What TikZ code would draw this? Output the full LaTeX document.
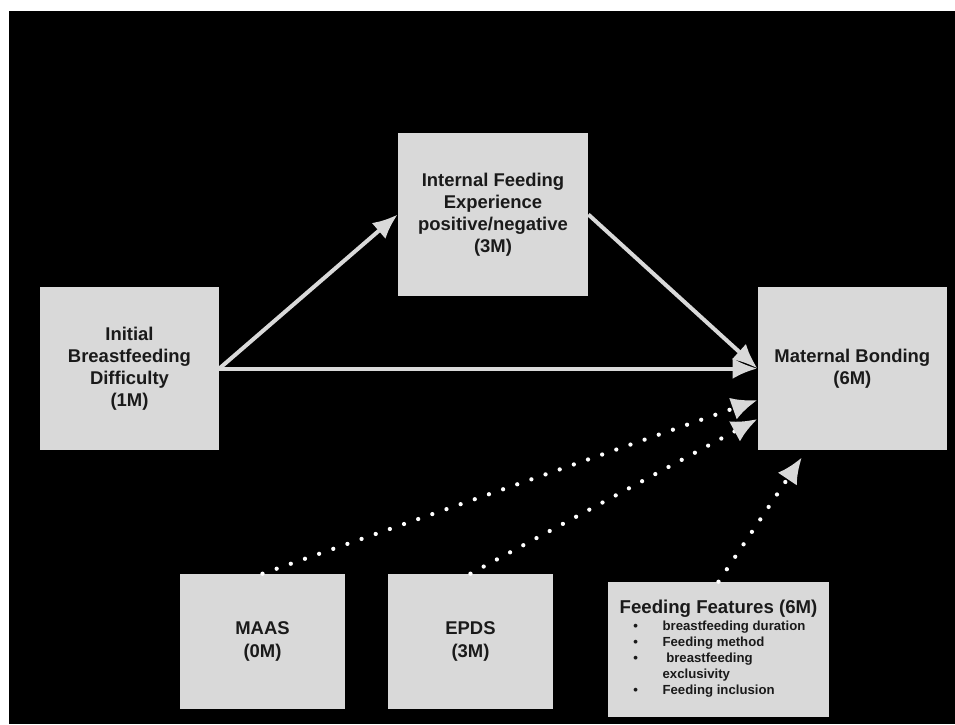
\documentclass[tikz,border=0pt]{standalone}
\usepackage{fontspec}
\setmainfont{Liberation Sans}
\usetikzlibrary{arrows.meta,positioning}
\definecolor{boxgray}{HTML}{D9D9D9}
\definecolor{textdark}{HTML}{1A1A1A}

\begin{document}
\begin{tikzpicture}[x=0.02cm,y=-0.02cm,
  box/.style={fill=boxgray,text=textdark,font=\fontsize{10.5}{12.6}\selectfont\bfseries,align=center,inner sep=0pt},
  solid_arrow/.style={draw=boxgray,line width=0.08cm,-{Latex[length=0.5cm,width=0.42cm]}},
  dot_arrow/.style={draw=white,line width=0.085cm,line cap=round,dash pattern=on 0pt off 0.3cm,-{Latex[length=0.52cm,width=0.46cm,color=boxgray]}}]

\fill[white] (0,0) rectangle (955,724);
\fill[black] (9,11) rectangle (955,724);

\node[box,minimum width=3.58cm,minimum height=3.26cm] (initial_node) at (129.5,368.5) {Initial\\Breastfeeding\\Difficulty\\(1M)};
\node[box,minimum width=3.78cm,minimum height=3.26cm,right of = initial_node, node distance = 14.46cm] (maternal_node) {Maternal Bonding\\(6M)};
\node[box,minimum width=3.8cm,minimum height=3.26cm] (internal_node) at (493,214.5) {Internal Feeding\\Experience\\positive/negative\\(3M)};
\node[box,minimum width=3.3cm,minimum height=2.7cm] (maas_node) at (262.5,641.5) {MAAS\\(0M)};
\node[box,minimum width=3.3cm,minimum height=2.7cm,right of = maas_node, node distance = 4.16cm] (epds_node) {EPDS\\(3M)};
\node[box,minimum width=4.42cm,minimum height=2.7cm] (features_node) at (718.5,649.5) {%
  {\fontsize{10.6}{13}\selectfont Feeding Features (6M)}\\[0.5pt]
  \fontsize{7.5}{9.1}\selectfont
  \begin{tabular}{@{}p{0.62cm}@{}l@{}}
  \hspace{1pt}\textbullet & breastfeeding duration\\
  \hspace{1pt}\textbullet & Feeding method\\
  \hspace{1pt}\textbullet & \ breastfeeding\\
              & exclusivity\\
  \hspace{1pt}\textbullet & Feeding inclusion
  \end{tabular}};

% solid paths
\draw[solid_arrow] (initial_node.east) -- (maternal_node.west);
\draw[solid_arrow] (initial_node.east) -- (internal_node.west);
\draw[solid_arrow] (internal_node.east) -- (maternal_node.west);

% dotted paths
\draw[dot_arrow] (maas_node.north) -- ([yshift=-0.63cm]maternal_node.west);
\draw[dot_arrow] (epds_node.north) -- ([yshift=-1.01cm]maternal_node.west);
\draw[dot_arrow] (features_node.north) -- ([xshift=-1.01cm,yshift=-0.14cm]maternal_node.south);

\end{tikzpicture}
\end{document}
